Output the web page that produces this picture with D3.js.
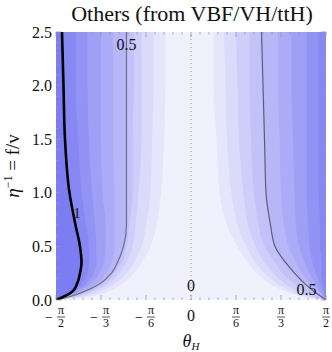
<!DOCTYPE html>
<html>
<head>
<meta charset="utf-8">
<script src="https://cdn.jsdelivr.net/npm/d3@7"></script>
<style>
  body { margin: 0; background: #fff; }
  svg { display: block; }
  text { font-family: "Liberation Serif", "DejaVu Serif", serif; fill: #111; }
</style>
</head>
<body>
<div id="chart"></div>
<script>
(function () {
    'use strict';

    var etaRows = [2.5, 2.0, 1.5, 1.0, 0.7, 0.5, 0.35, 0.25, 0.15, 0.08, 0.03, 0];

    // left side: values >= level lie left of the curve (theta in degrees)
    var leftLevels = [0.1, 0.2, 0.3, 0.4, 0.5, 0.6, 0.7, 0.8, 0.9, 1.0];
    var leftTheta = [
        [-17, -17, -18, -20, -23, -27, -33, -38, -46, -55, -69, -90],
        [-25, -25, -26, -27, -30, -33, -38, -43, -51, -61, -73, -90],
        [-33, -33, -33, -35, -37, -39, -43, -48, -55, -65, -76, -90],
        [-38, -38, -39, -39, -41, -43, -46, -51, -58, -68, -79, -90],
        [-43, -43, -43, -43, -43, -45, -49, -53, -61, -71, -81, -90],
        [-52, -52, -52, -51, -51, -51, -53, -57, -63, -73, -82, -90],
        [-60, -60, -60, -59, -57, -57, -58, -61, -67, -75, -83, -90],
        [-69, -69, -68, -66, -64, -63, -63, -65, -70, -77, -84, -90],
        [-77, -77, -75, -73, -70, -68, -68, -69, -73, -78, -84, -90],
        [-86, -85, -84, -81, -77, -74, -73, -74, -76, -79, -85, -90]
    ];

    // right side: values >= level lie right of the curve
    var rightLevels = [0.1, 0.2, 0.3, 0.4, 0.5, 0.6, 0.7, 0.8, 0.9];
    var rightTheta = [
        [15, 15, 17, 19, 24, 31, 38, 44, 53, 63, 75, 90],
        [22, 23, 24, 27, 31, 37, 43, 49, 58, 67, 77, 90],
        [30, 31, 32, 35, 38, 43, 49, 55, 63, 71, 80, 90],
        [39, 39, 40, 42, 45, 49, 56, 61, 69, 76, 83, 90],
        [47, 48, 49, 50, 53, 56, 63, 69, 76, 82, 87, 90],
        [58, 58, 59, 60, 62, 65, 70, 74, 80, 85, 88, 90],
        [67, 67, 68, 69, 70, 72, 76, 79, 83, 86, 89, 90],
        [77, 77, 77, 77, 78, 79, 81, 83, 86, 88, 89, 90],
        [85, 85, 85, 85, 86, 86, 87, 87, 88, 89, 89, 90]
    ];

    var xTicks = [-90, -60, -30, 0, 30, 60, 90];
    var xTickLabels = ['−π/2', '−π/3', '−π/6', '0', 'π/6', 'π/3', 'π/2'];
    var yTicks = [0, 0.5, 1.0, 1.5, 2.0, 2.5];

    var contourLabels = [
        { text: '1', theta: -76, eta: 0.81 },
        { text: '0.5', theta: -43, eta: 2.38 },
        { text: '0', theta: 0, eta: 0.14 },
        { text: '0.5', theta: 77, eta: 0.1 }
    ];

    var width = 332;
    var height = 352;

    var x = d3.scaleLinear().domain([-90, 90]).range([56, 326]);
    var y = d3.scaleLinear().domain([0, 2.5]).range([300, 32]);
    var color = d3.scaleLinear().domain([0, 1]).range(['#f1f1fd', '#7c7cf3']);

    var svg = d3.select('#chart')
        .append('svg')
        .attr('width', width)
        .attr('height', height);

    svg.append('clipPath')
        .attr('id', 'plot-clip')
        .append('rect')
        .attr('x', x(-90)).attr('y', y(2.5))
        .attr('width', x(90) - x(-90))
        .attr('height', y(0) - y(2.5));

    var plot = svg.append('g').attr('clip-path', 'url(#plot-clip)');

    plot.append('rect')
        .attr('x', x(-90)).attr('y', y(2.5))
        .attr('width', x(90) - x(-90))
        .attr('height', y(0) - y(2.5))
        .attr('fill', color(0));

    function rows(thetas) {
        return thetas.map(function (t, i) { return { theta: t, eta: etaRows[i] }; });
    }

    var leftArea = d3.area()
        .y(function (d) { return y(d.eta); })
        .x0(x(-90))
        .x1(function (d) { return x(d.theta); })
        .curve(d3.curveMonotoneY);

    var rightArea = d3.area()
        .y(function (d) { return y(d.eta); })
        .x0(function (d) { return x(d.theta); })
        .x1(x(90))
        .curve(d3.curveMonotoneY);

    var line = d3.line()
        .x(function (d) { return x(d.theta); })
        .y(function (d) { return y(d.eta); })
        .curve(d3.curveMonotoneY);

    plot.selectAll('path.left-band')
        .data(leftLevels)
        .enter()
        .append('path')
        .attr('class', 'left-band')
        .attr('d', function (d, i) { return leftArea(rows(leftTheta[i])); })
        .attr('fill', function (d) { return color(d); });

    plot.selectAll('path.right-band')
        .data(rightLevels)
        .enter()
        .append('path')
        .attr('class', 'right-band')
        .attr('d', function (d, i) { return rightArea(rows(rightTheta[i])); })
        .attr('fill', function (d) { return color(d); });

    // zero contour, dotted
    plot.append('line')
        .attr('x1', x(0)).attr('x2', x(0))
        .attr('y1', y(0)).attr('y2', y(2.5))
        .attr('stroke', '#8a8a9a')
        .attr('stroke-width', 1)
        .attr('stroke-dasharray', '1,3');

    // 0.5 contours
    plot.append('path')
        .attr('d', line(rows(leftTheta[leftLevels.indexOf(0.5)])))
        .attr('fill', 'none')
        .attr('stroke', '#6e6e88')
        .attr('stroke-width', 1.2);
    plot.append('path')
        .attr('d', line(rows(rightTheta[rightLevels.indexOf(0.5)])))
        .attr('fill', 'none')
        .attr('stroke', '#5c5c7a')
        .attr('stroke-width', 1.2);

    // 1 contour
    plot.append('path')
        .attr('d', line(rows(leftTheta[leftLevels.indexOf(1.0)])))
        .attr('fill', 'none')
        .attr('stroke', '#000')
        .attr('stroke-width', 2.6);

    // frame ticks
    var ticks = svg.append('g').attr('stroke', '#999').attr('stroke-width', 0.8);
    d3.range(-90, 91, 6).forEach(function (t) {
        var len = t % 30 === 0 ? 5 : 2.5;
        ticks.append('line').attr('x1', x(t)).attr('x2', x(t)).attr('y1', y(0)).attr('y2', y(0) - len);
        ticks.append('line').attr('x1', x(t)).attr('x2', x(t)).attr('y1', y(2.5)).attr('y2', y(2.5) + len);
    });
    d3.range(0, 26).forEach(function (k) {
        var v = k / 10;
        var len = k % 5 === 0 ? 5 : 2.5;
        ticks.append('line').attr('x1', x(-90)).attr('x2', x(-90) + len).attr('y1', y(v)).attr('y2', y(v));
        ticks.append('line').attr('x1', x(90)).attr('x2', x(90) - len).attr('y1', y(v)).attr('y2', y(v));
    });

    // contour labels
    svg.selectAll('text.clabel')
        .data(contourLabels)
        .enter()
        .append('text')
        .attr('class', 'clabel')
        .attr('x', function (d) { return x(d.theta); })
        .attr('y', function (d) { return y(d.eta); })
        .attr('dy', '0.35em')
        .attr('text-anchor', 'middle')
        .attr('font-size', function (d) { return d.text === '1' ? 14 : 16; })
        .text(function (d) { return d.text; });

    // y tick labels
    svg.selectAll('text.ytick')
        .data(yTicks)
        .enter()
        .append('text')
        .attr('class', 'ytick')
        .attr('x', 52)
        .attr('y', function (d) { return y(d); })
        .attr('dy', '0.35em')
        .attr('text-anchor', 'end')
        .attr('font-size', 16)
        .text(function (d) { return d3.format('.1f')(d); });

    // x tick labels as stacked fractions
    xTicks.forEach(function (t, i) {
        var label = xTickLabels[i];
        var g = svg.append('g').attr('transform', 'translate(' + x(t) + ',0)');
        if (label === '0') {
            g.append('text').attr('x', 0).attr('y', 321).attr('text-anchor', 'middle')
                .attr('font-size', 16).text('0');
            return;
        }
        var neg = label.charAt(0) === '−';
        var parts = label.replace('−', '').split('/');
        var fx = neg ? 5 : 0;
        if (neg) {
            g.append('text').attr('x', -7).attr('y', 322).attr('text-anchor', 'middle')
                .attr('font-size', 14).text('−');
        }
        g.append('text').attr('x', fx).attr('y', 314).attr('text-anchor', 'middle')
            .attr('font-size', 12).text(parts[0]);
        g.append('line').attr('x1', fx - 4).attr('x2', fx + 4).attr('y1', 317).attr('y2', 317)
            .attr('stroke', '#111').attr('stroke-width', 0.7);
        g.append('text').attr('x', fx).attr('y', 327).attr('text-anchor', 'middle')
            .attr('font-size', 12).text(parts[1]);
    });

    // title
    svg.append('text')
        .attr('x', 192).attr('y', 21)
        .attr('text-anchor', 'middle')
        .attr('font-size', 22)
        .text('Others (from VBF/VH/ttH)');

    // x axis label
    var xl = svg.append('text')
        .attr('x', 191).attr('y', 347)
        .attr('text-anchor', 'middle')
        .attr('font-size', 18);
    xl.append('tspan').attr('font-style', 'italic').text('θ');
    xl.append('tspan').attr('font-style', 'italic').attr('font-size', 11).attr('dy', 3).text('H');

    // y axis label
    var yl = svg.append('text')
        .attr('transform', 'translate(19,166) rotate(-90)')
        .attr('text-anchor', 'middle')
        .attr('font-size', 19);
    yl.append('tspan').attr('font-style', 'italic').text('η');
    yl.append('tspan').attr('font-size', 12).attr('dy', -7).text('−1');
    yl.append('tspan').attr('dy', 7).text(' = f/v');
}());
</script>
</body>
</html>
